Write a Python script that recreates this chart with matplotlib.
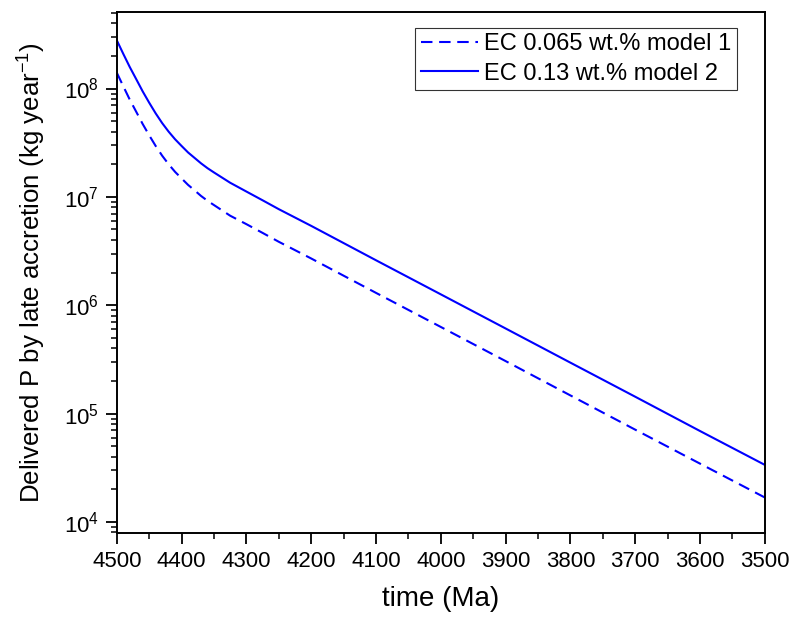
import matplotlib
matplotlib.use("Agg")
import matplotlib.pyplot as plt
from matplotlib.ticker import LogLocator, MultipleLocator, NullFormatter

plt.rcParams['font.family'] = ['Liberation Sans', 'DejaVu Sans']
plt.rcParams['mathtext.fontset'] = 'custom'
plt.rcParams['mathtext.rm'] = 'Liberation Sans'
plt.rcParams['mathtext.it'] = 'Liberation Sans:italic'
plt.rcParams['mathtext.bf'] = 'Liberation Sans:bold'

time_ma = [4500, 4490, 4480, 4470, 4460, 4450, 4440, 4430, 4420, 4410,
           4400, 4390, 4380, 4370, 4360, 4350, 4325, 4300, 4275, 4250,
           4200, 4100, 4000, 3900, 3800, 3700, 3600, 3500]
model1 = [1.40e8, 1.05e8, 7.9e7, 6.1e7, 4.7e7, 3.7e7, 2.95e7, 2.4e7, 2.0e7, 1.7e7,
          1.48e7, 1.29e7, 1.15e7, 1.02e7, 9.2e6, 8.4e6, 6.7e6, 5.6e6, 4.65e6, 3.85e6,
          2.7e6, 1.3e6, 6.3e5, 3.05e5, 1.47e5, 7.1e4, 3.45e4, 1.68e4]
model2 = [2.79e8, 2.09e8, 1.58e8, 1.22e8, 9.4e7, 7.4e7, 5.9e7, 4.8e7, 4.0e7, 3.4e7,
          2.95e7, 2.57e7, 2.29e7, 2.04e7, 1.84e7, 1.68e7, 1.35e7, 1.12e7, 9.3e6, 7.7e6,
          5.4e6, 2.6e6, 1.26e6, 6.1e5, 2.95e5, 1.43e5, 6.9e4, 3.36e4]
label1 = 'EC 0.065 wt.% model 1'
label2 = 'EC 0.13 wt.% model 2'

fig = plt.figure(figsize=(8, 6.26), dpi=100)
ax = fig.add_axes([0.146, 0.1486, 0.81, 0.8324])

ax.plot(time_ma, model1, color='#0000ff', lw=1.5, dashes=(5.5, 3.2), label=label1)
ax.plot(time_ma, model2, color='#0000ff', lw=1.5, label=label2)

ax.set_yscale('log')
ax.set_xlim(4500, 3500)
ax.set_ylim(7.9e3, 5.1e8)
ax.xaxis.set_major_locator(MultipleLocator(100))
ax.xaxis.set_minor_locator(MultipleLocator(50))
ax.yaxis.set_major_locator(LogLocator(base=10, numticks=20))
ax.yaxis.set_minor_locator(LogLocator(base=10, subs=range(2, 10), numticks=20))
ax.yaxis.set_minor_formatter(NullFormatter())

ax.tick_params(axis='both', which='major', direction='out', length=8, width=1.3,
               labelsize=16, pad=5)
ax.tick_params(axis='both', which='minor', direction='out', length=4.5, width=1.1)
for s in ax.spines.values():
    s.set_linewidth(1.4)

ax.set_xlabel('time (Ma)', fontsize=20, labelpad=10)
ax.set_ylabel('Delivered P by late accretion (kg year$^{-1}$)', fontsize=18.6, labelpad=11)

leg = ax.legend(loc='upper right', bbox_to_anchor=(0.957, 0.970), fontsize=17,
                frameon=True, fancybox=False, edgecolor='black', handlelength=2.4,
                handletextpad=0.25, borderpad=0.25, labelspacing=0.3, borderaxespad=0)
leg.get_frame().set_linewidth(0.8)

fig.savefig('out.png', dpi=100)
